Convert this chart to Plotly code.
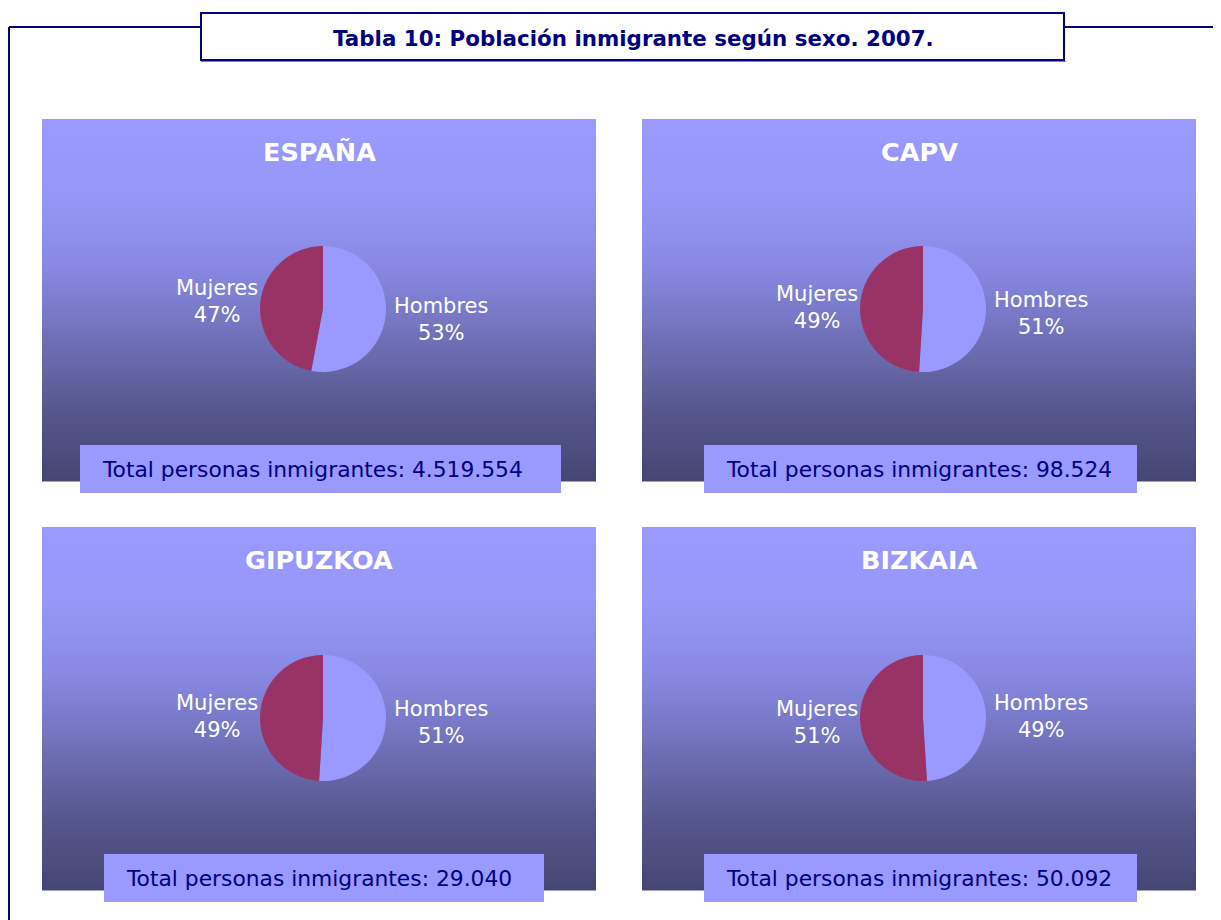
import math
import plotly.graph_objects as go

# ---- data ----
regions = ["ESPAÑA", "CAPV", "GIPUZKOA", "BIZKAIA"]
sexes = ["Hombres", "Mujeres"]
hombres_pct = [53, 51, 51, 49]
mujeres_pct = [47, 49, 49, 51]
totals = ["4.519.554", "98.524", "29.040", "50.092"]
title_text = "Tabla 10: Población inmigrante según sexo. 2007."
total_label = "Total personas inmigrantes: "

OFF = 8  # page body margin
W, H = 1221 - OFF, 920 - OFF
NAVY = "#000080"
PIE_COLORS = ["#9999FF", "#993366"]
FONT = "DejaVu Sans, Verdana, sans-serif"


def px(x):
    return (x - OFF) / W


def py(y):
    return 1 - (y - OFF) / H


# layout geometry (pixels in the window)
panels = [(42, 119, 596, 481), (642, 119, 1196, 481),
          (42, 527, 596, 890), (642, 527, 1196, 890)]
pie_centers = [(323, 309), (923, 309), (323, 718), (923, 718)]
R = 63
total_boxes = [(80, 445, 561, 493), (704, 445, 1137, 493),
               (104, 854, 544, 902), (704, 854, 1137, 902)]

grad_stops = [(0.0, (153, 153, 255)), (0.18, (152, 152, 250)), (0.4, (137, 137, 228)),
              (0.6, (112, 112, 185)), (0.8, (86, 86, 142)), (1.0, (70, 70, 115))]


def grad(t):
    for (t0, c0), (t1, c1) in zip(grad_stops[:-1], grad_stops[1:]):
        if t <= t1:
            f = (t - t0) / (t1 - t0) if t1 > t0 else 0
            return "rgb(%d,%d,%d)" % tuple(round(a + (b - a) * f) for a, b in zip(c0, c1))
    return "rgb(%d,%d,%d)" % grad_stops[-1][1]


shapes = []
annotations = []
fig = go.Figure()

# frame lines
line = dict(color=NAVY, width=2)
shapes.append(dict(type="line", xref="paper", yref="paper", x0=px(9), x1=px(9), y0=py(27), y1=py(921), line=line))
shapes.append(dict(type="line", xref="paper", yref="paper", x0=px(9), x1=px(200), y0=py(27), y1=py(27), line=line))
shapes.append(dict(type="line", xref="paper", yref="paper", x0=px(1065), x1=px(1222), y0=py(27), y1=py(27), line=line))
# title box
shapes.append(dict(type="line", xref="paper", yref="paper", x0=px(201), x1=px(1066), y0=py(61.5), y1=py(61.5),
                   line=dict(color="#8080C0", width=1)))
shapes.append(dict(type="rect", xref="paper", yref="paper", x0=px(201), x1=px(1064), y0=py(60), y1=py(13),
                   line=line, fillcolor="white"))
annotations.append(dict(text="<b>%s</b>" % title_text, xref="paper", yref="paper", x=px(633), y=py(38),
                        xanchor="center", yanchor="middle",
                        showarrow=False, font=dict(family=FONT, size=21.4, color=NAVY)))

step = 3
for i, name in enumerate(regions):
    x0, y0, x1, y1 = panels[i]
    # gradient background
    y = y0
    while y < y1:
        yb = min(y + step, y1)
        t = (y - y0) / (y1 - y0)
        shapes.append(dict(type="rect", xref="paper", yref="paper", layer="below",
                           x0=px(x0), x1=px(x1), y0=py(yb + 0.5), y1=py(y),
                           line=dict(width=0), fillcolor=grad(t)))
        y = yb
    # panel title
    annotations.append(dict(text="<b>%s</b>" % name, xref="paper", yref="paper",
                            x=px((x0 + x1) / 2), y=py(y0 + 33), xanchor="center", yanchor="middle",
                            showarrow=False, font=dict(family=FONT, size=25.5, color="white")))
    # pie
    cx, cy = pie_centers[i]
    vals = [hombres_pct[i], mujeres_pct[i]]
    fig.add_trace(go.Pie(labels=sexes, values=vals, sort=False, direction="clockwise", rotation=0,
                         marker=dict(colors=PIE_COLORS, line=dict(width=0)), textinfo="none",
                         hoverinfo="skip", showlegend=False,
                         domain=dict(x=[px(cx - R), px(cx + R)], y=[py(cy + R), py(cy - R)])))
    # labels placed at slice mid-angles
    tot = sum(vals)
    cum = 0
    for k, (lab, v) in enumerate(zip(sexes, vals)):
        mid = (cum + v / 2) / tot * 2 * math.pi
        cum += v
        s = math.sin(mid)
        dy = -math.cos(mid) * 100
        if s >= 0:
            ax, anchor = cx + 69, "left"
        else:
            ax, anchor = cx - 63, "right"
        annotations.append(dict(text="%s<br>%d%%" % (lab, v), xref="paper", yref="paper",
                                x=px(ax), y=py(cy + dy + 1.5), xanchor=anchor, yanchor="middle",
                                align="center", showarrow=False,
                                font=dict(family=FONT, size=21, color="white")))
    # total box
    bx0, by0, bx1, by1 = total_boxes[i]
    shapes.append(dict(type="rect", xref="paper", yref="paper", x0=px(bx0), x1=px(bx1),
                       y0=py(by1), y1=py(by0), line=dict(width=0), fillcolor="#9999FF"))
    annotations.append(dict(text=total_label + totals[i], xref="paper", yref="paper",
                            x=px(bx0 + 20), y=py((by0 + by1) / 2), xanchor="left", yanchor="middle",
                            showarrow=False, font=dict(family=FONT, size=21.8, color=NAVY)))

fig.update_layout(width=W, height=H, margin=dict(l=0, r=0, t=0, b=0),
                  paper_bgcolor="white", plot_bgcolor="white",
                  shapes=shapes, annotations=annotations)
fig.write_html("out.html")
